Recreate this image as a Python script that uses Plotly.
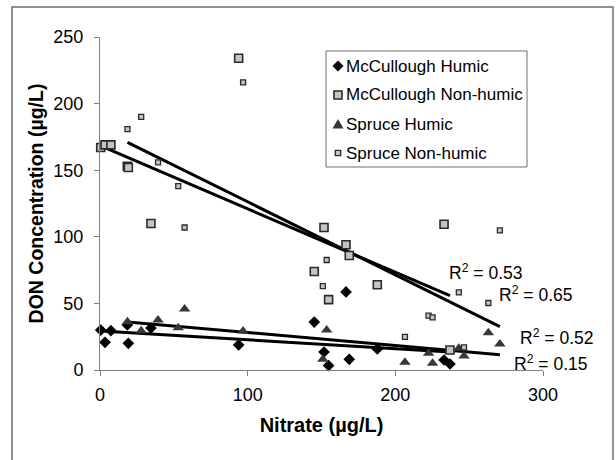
import numpy as np
import plotly.graph_objects as go

# ---- data ----
mc_nitrate = [0.5, 3.4, 7.4, 18.5, 19.2, 34.5, 93.9, 145.1, 151.7, 154.8, 166.6, 168.8, 187.8, 233.0, 237.0]
mc_humic = [30, 20.8, 29.5, 33.8, 20, 31.5, 18.8, 36, 13.5, 3.3, 58.6, 8, 15.8, 7.5, 4.5]
mc_nonhumic = [167, 169, 169, 153, 152, 110, 234, 74, 107, 52.8, 94, 86, 64, 109.4, 15]

sp_nitrate = [18.6, 27.9, 39.3, 53.0, 57.3, 96.9, 153.5, 150.9, 206.5, 222.5, 225.2, 243.0, 246.5, 263.0, 270.8]
sp_humic = [36.3, 29.5, 37.5, 31.8, 45.8, 29.3, 30, 8, 5.8, 12.5, 5, 16.3, 10.5, 28, 19.5]
sp_nonhumic = [180.9, 190, 155.9, 138, 107, 216, 82.6, 63, 24.8, 40.8, 39.5, 58.3, 17, 50.3, 104.8]

series_names = ["McCullough Humic", "McCullough Non-humic", "Spruce Humic", "Spruce Non-humic"]
r2_labels = ["R<sup>2</sup> = 0.15", "R<sup>2</sup> = 0.53", "R<sup>2</sup> = 0.52", "R<sup>2</sup> = 0.65"]
r2_pos_x = [279, 235, 283, 269]
r2_pos_y = [5.3, 73.6, 24.8, 57]
x_ticks = [0, 100, 200, 300]
y_ticks = [0, 50, 100, 150, 200, 250]
x_title = "Nitrate (µg/L)"
y_title = "DON Concentration (µg/L)"

FONT = "Arial, Liberation Sans, Helvetica, sans-serif"
W, H = 616, 460
ML, MR, MT, MB = 100, 73, 37, 90
PW, PH = W - ML - MR, H - MT - MB


def px_x(px):
    return (px - ML) / PW


def px_y(py):
    return (H - MB - py) / PH


fig = go.Figure()

styles = [
    dict(symbol="diamond", size=9, color="#000000", line=dict(width=0)),
    dict(symbol="square", size=8, color="#c4c4c4", line=dict(width=1.6, color="#2a2a2a")),
    dict(symbol="triangle-up", size=10, color="#383838", line=dict(width=0)),
    dict(symbol="square", size=5, color="#c4c4c4", line=dict(width=1.3, color="#2a2a2a")),
]
series = [(mc_nitrate, mc_humic), (mc_nitrate, mc_nonhumic), (sp_nitrate, sp_humic), (sp_nitrate, sp_nonhumic)]

# trendlines (least squares over each series' range)
for xs, ys in series:
    xa = np.array(xs); ya = np.array(ys)
    m, b = np.polyfit(xa, ya, 1)
    xl = np.array([xa.min(), xa.max()])
    fig.add_trace(go.Scatter(x=xl, y=m * xl + b, mode="lines",
                             line=dict(color="#000000", width=3), showlegend=False,
                             hoverinfo="skip"))

for (xs, ys), mk, name in zip(series, styles, series_names):
    fig.add_trace(go.Scatter(x=xs, y=ys, mode="markers", name=name, marker=mk,
                             cliponaxis=False, showlegend=False))

for txt, ax_, ay_ in zip(r2_labels, r2_pos_x, r2_pos_y):
    fig.add_annotation(x=ax_, y=ay_, xref="x", yref="y", text=txt, showarrow=False,
                       xanchor="left", yanchor="middle", font=dict(size=17.5, color="#000", family=FONT))

# ---- legend drawn as a box with symbols and text ----
fig.add_shape(type="rect", xref="paper", yref="paper",
              x0=px_x(326), x1=px_x(527), y0=px_y(167), y1=px_y(51),
              line=dict(color="#6f6f6f", width=1), fillcolor="white", layer="above")
row_y = [66, 95, 124, 153]
sym_x = px_x(338)
legend_syms = [
    dict(type="path", path="M 0,5.5 L 5.5,0 L 0,-5.5 L -5.5,0 Z", fillcolor="#000000", line=dict(width=0)),
    dict(type="rect", x0=-4, x1=4, y0=-4, y1=4, fillcolor="#c4c4c4", line=dict(color="#2a2a2a", width=1.6)),
    dict(type="path", path="M -5.5,-4.5 L 5.5,-4.5 L 0,5 Z", fillcolor="#383838", line=dict(width=0)),
    dict(type="rect", x0=-2.7, x1=2.7, y0=-2.7, y1=2.7, fillcolor="#c4c4c4", line=dict(color="#2a2a2a", width=1.3)),
]
for ry, sym, name in zip(row_y, legend_syms, series_names):
    fig.add_shape(xref="paper", yref="paper", xsizemode="pixel", ysizemode="pixel",
                  xanchor=sym_x, yanchor=px_y(ry), layer="above", **sym)
    fig.add_annotation(x=px_x(344), y=px_y(ry), xref="paper", yref="paper", text=name,
                       showarrow=False, xanchor="left", yanchor="middle",
                       font=dict(size=17, color="#000", family=FONT))

# outer frame
fig.add_shape(type="rect", xref="paper", yref="paper", x0=px_x(12), x1=px_x(613), y0=px_y(462), y1=px_y(7),
              line=dict(color="#6f6f6f", width=1.5), fillcolor="rgba(0,0,0,0)", layer="below")

fig.update_layout(
    width=W, height=H,
    margin=dict(l=ML, r=MR, t=MT, b=MB, autoexpand=False),
    paper_bgcolor="white", plot_bgcolor="white",
    font=dict(family=FONT, size=18, color="#000"),
    showlegend=False,
    xaxis=dict(range=[0, 300], tickvals=x_ticks, showgrid=False, zeroline=False,
               showline=True, linecolor="#808080", linewidth=1, ticks="outside", ticklen=5,
               tickcolor="#808080", tickfont=dict(size=18), ticklabelstandoff=3,
               title=dict(text="<b>" + x_title + "</b>", font=dict(size=20), standoff=14)),
    yaxis=dict(range=[0, 250], tickvals=y_ticks, showgrid=False, zeroline=False,
               showline=True, linecolor="#808080", linewidth=1, ticks="outside", ticklen=5,
               tickcolor="#808080", tickfont=dict(size=18), ticklabelstandoff=7,
               title=dict(text="<b>" + y_title + "</b>", font=dict(size=19.5), standoff=4)),
)

fig.write_html("out.html")
